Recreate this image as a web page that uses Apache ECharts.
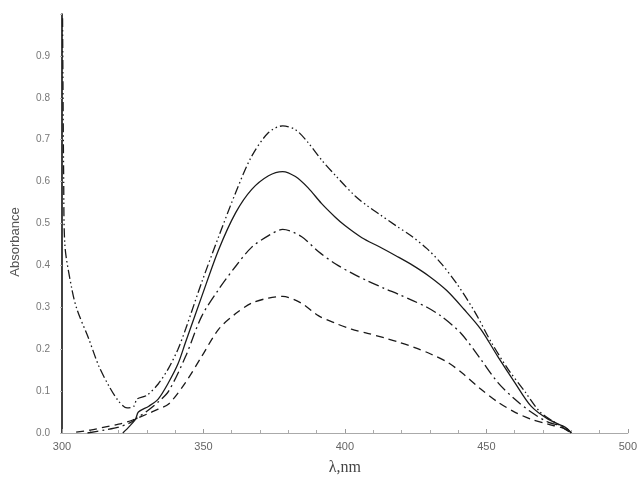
<!DOCTYPE html>
<html>
<head>
<meta charset="utf-8">
<script src="https://cdn.jsdelivr.net/npm/echarts@6/dist/echarts.min.js"></script>
<style>html,body{margin:0;padding:0;background:#fff}#c{width:640px;height:481px}</style>
</head>
<body>
<div id="c"></div>
<script>
// Curve 1 (dash-dot-dot, highest peak)
const wl1 = [300.2, 300.6, 301, 303.5, 305.3, 309.5, 313, 316.6, 320, 323, 325.4, 326.5, 330, 334, 337.7, 341, 343.7, 349.4, 355.4, 361.4, 367, 373, 378, 382.5, 387, 391.7, 396.6, 403.7, 408, 412, 418, 423.5, 429, 434, 440, 446, 451.7, 457.7, 463.7, 469, 474, 480];
const ab1 = [0.99, 0.6, 0.45, 0.343, 0.295, 0.224, 0.16, 0.112, 0.076, 0.06, 0.064, 0.081, 0.09, 0.117, 0.155, 0.2, 0.248, 0.36, 0.469, 0.574, 0.66, 0.717, 0.733, 0.724, 0.693, 0.652, 0.615, 0.565, 0.542, 0.523, 0.495, 0.47, 0.44, 0.405, 0.352, 0.288, 0.217, 0.152, 0.098, 0.05, 0.026, 0.0];
// Curve 2 (solid)
const wl2 = [321.5, 324, 326, 327, 330.7, 334, 337.7, 341, 343.7, 349.4, 355.4, 361.4, 367, 373, 378, 382.5, 387, 391.7, 396.6, 400, 406, 412, 418, 424, 430, 436, 442, 448, 454, 460, 465.8, 471.8, 477.8, 480];
const ab2 = [0.0, 0.017, 0.033, 0.05, 0.064, 0.081, 0.121, 0.165, 0.217, 0.326, 0.438, 0.526, 0.581, 0.614, 0.624, 0.612, 0.585, 0.548, 0.515, 0.495, 0.466, 0.445, 0.423, 0.4, 0.373, 0.34, 0.296, 0.248, 0.183, 0.121, 0.064, 0.033, 0.014, 0.0];
// Curve 3 (dash-dot)
const wl3 = [309, 315, 320, 324, 327, 330, 334, 337.7, 343.7, 349.4, 355.4, 361.4, 367, 373, 378, 384.6, 390.6, 396.6, 402.3, 408, 414, 419, 424, 429, 434, 441, 448, 454, 460, 465.8, 471.8, 477.8, 480];
const ab3 = [0.0, 0.007, 0.014, 0.024, 0.038, 0.052, 0.074, 0.1, 0.183, 0.279, 0.343, 0.398, 0.443, 0.471, 0.486, 0.469, 0.433, 0.404, 0.382, 0.363, 0.345, 0.331, 0.316, 0.3, 0.279, 0.238, 0.176, 0.121, 0.081, 0.05, 0.026, 0.014, 0.0];
// Curve 4 (dashed, lowest peak)
const wl4 = [305, 310, 315, 320, 325, 330, 334, 337.7, 343.7, 349.4, 355.4, 361.4, 367, 373, 378, 384.6, 390.6, 396.6, 402.3, 408, 414, 419, 424.7, 430.5, 436.5, 442, 448, 454, 460, 465.8, 471.8, 477.8, 480];
const ab4 = [0.002, 0.007, 0.014, 0.021, 0.031, 0.045, 0.057, 0.069, 0.121, 0.183, 0.248, 0.285, 0.31, 0.322, 0.326, 0.31, 0.28, 0.262, 0.248, 0.238, 0.227, 0.217, 0.204, 0.188, 0.168, 0.14, 0.105, 0.074, 0.05, 0.033, 0.021, 0.01, 0.0];

const xTicks = [300, 350, 400, 450, 500];
const yTicks = [0.0, 0.1, 0.2, 0.3, 0.4, 0.5, 0.6, 0.7, 0.8, 0.9];

const zip = (a, b) => a.map((v, i) => [v, b[i]]);
const chart = echarts.init(document.getElementById('c'));
const lineCol = '#1a1a1a';
function mk(name, x, y, type) {
  return {
    name, type: 'line', data: zip(x, y), showSymbol: false, smooth: 0.3,
    lineStyle: { color: lineCol, width: 1.3, type: type }, z: 3
  };
}
chart.setOption({
  animation: false,
  backgroundColor: '#fff',
  grid: { left: 62, right: 11, top: 14, bottom: 47, containLabel: false },
  xAxis: {
    type: 'value', min: 300, max: 500, interval: 50,
    name: 'λ,nm', nameLocation: 'middle', nameGap: 27,
    nameTextStyle: { fontFamily: 'Liberation Serif', fontSize: 16, color: '#444' },
    axisLine: { show: true, lineStyle: { color: '#aaa', width: 1 } },
    axisTick: { show: true, inside: true, length: 4, lineStyle: { color: '#999' } },
    minorTick: { show: true, splitNumber: 5, length: 3, lineStyle: { color: '#aaa' } },
    splitLine: { show: false },
    axisLabel: {
      margin: 8, fontFamily: 'Liberation Sans', fontSize: 11, color: '#666',
      formatter: v => xTicks.includes(v) ? String(v) : ''
    }
  },
  yAxis: {
    type: 'value', min: 0, max: 1.0, interval: 0.1,
    axisLine: { show: true, lineStyle: { color: '#111', width: 1.6 } },
    axisTick: { show: true, length: 2, lineStyle: { color: '#bbb' } },
    splitLine: { show: false },
    axisLabel: {
      margin: 12, fontFamily: 'Liberation Sans', fontSize: 10, color: '#777',
      formatter: v => {
        const t = yTicks.find(k => Math.abs(k - v) < 1e-6);
        return t === undefined ? '' : t.toFixed(1);
      }
    }
  },
  graphic: [{
    type: 'text', x: 15, y: 242, rotation: Math.PI / 2,
    style: { text: 'Absorbance', fontFamily: 'Liberation Sans', fontSize: 13, fill: '#555', textAlign: 'center', textVerticalAlign: 'middle' }
  }],
  series: [
    mk('A', wl1, ab1, [9, 3, 1.5, 3, 1.5, 3]),
    mk('B', wl2, ab2, 'solid'),
    mk('C', wl3, ab3, [11, 4, 2, 4]),
    mk('D', wl4, ab4, [8, 5])
  ]
});
</script>
</body>
</html>
